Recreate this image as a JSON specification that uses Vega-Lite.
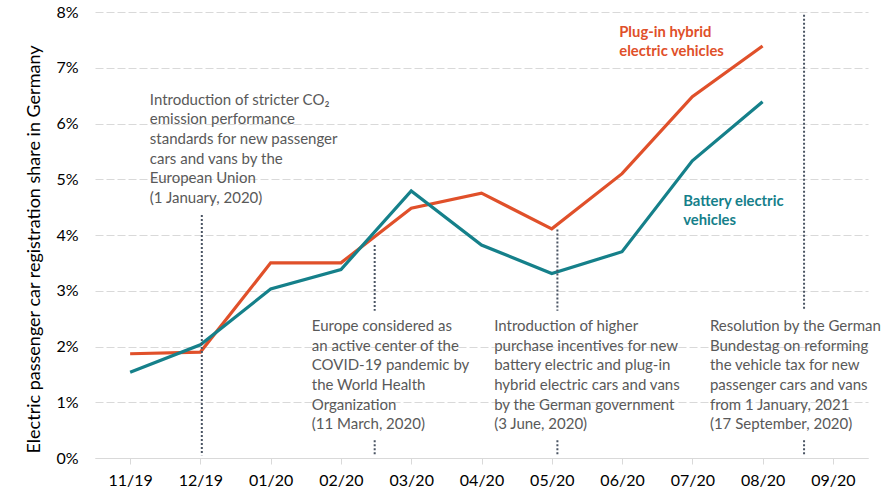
{
  "$schema": "https://vega.github.io/schema/vega-lite/v6.json",
  "autosize": "none",
  "width": 773,
  "height": 446,
  "padding": {"left": 95, "top": 12, "right": 25, "bottom": 35},
  "background": "white",
  "config": {
    "view": {"stroke": null},
    "font": "Lato"
  },
  "datasets": {
    "series": [
      {"m": 0, "month": "11/19", "series": "PHEV", "share": 0.0187},
      {"m": 1, "month": "12/19", "series": "PHEV", "share": 0.0190},
      {"m": 2, "month": "01/20", "series": "PHEV", "share": 0.0350},
      {"m": 3, "month": "02/20", "series": "PHEV", "share": 0.0350},
      {"m": 4, "month": "03/20", "series": "PHEV", "share": 0.0448},
      {"m": 5, "month": "04/20", "series": "PHEV", "share": 0.0475},
      {"m": 6, "month": "05/20", "series": "PHEV", "share": 0.0411},
      {"m": 7, "month": "06/20", "series": "PHEV", "share": 0.0510},
      {"m": 8, "month": "07/20", "series": "PHEV", "share": 0.0648},
      {"m": 9, "month": "08/20", "series": "PHEV", "share": 0.0739},
      {"m": 0, "month": "11/19", "series": "BEV", "share": 0.0154},
      {"m": 1, "month": "12/19", "series": "BEV", "share": 0.0203},
      {"m": 2, "month": "01/20", "series": "BEV", "share": 0.0303},
      {"m": 3, "month": "02/20", "series": "BEV", "share": 0.0338},
      {"m": 4, "month": "03/20", "series": "BEV", "share": 0.0479},
      {"m": 5, "month": "04/20", "series": "BEV", "share": 0.0382},
      {"m": 6, "month": "05/20", "series": "BEV", "share": 0.0331},
      {"m": 7, "month": "06/20", "series": "BEV", "share": 0.0370},
      {"m": 8, "month": "07/20", "series": "BEV", "share": 0.0533},
      {"m": 9, "month": "08/20", "series": "BEV", "share": 0.0639}
    ],
    "events": [
      {"x": 1.02, "y": 0.0436, "y2": 0.0005},
      {"x": 3.48, "y": 0.0382, "y2": 0.0264},
      {"x": 3.48, "y": 0.0032, "y2": 0.0005},
      {"x": 6.08, "y": 0.0410, "y2": 0.0264},
      {"x": 6.08, "y": 0.0032, "y2": 0.0005},
      {"x": 9.59, "y": 0.0795, "y2": 0.0264},
      {"x": 9.59, "y": 0.0032, "y2": 0.0005}
    ],
    "notes": [
      {"x": 0.28, "y": 0.0655, "lines": ["Introduction of stricter CO₂", "emission performance", "standards for new passenger", "cars and vans by the", "European Union", "(1 January, 2020)"]},
      {"x": 2.585, "y": 0.0249, "lines": ["Europe considered as", "an active center of the", "COVID-19 pandemic by", "the World Health", "Organization", "(11 March, 2020)"]},
      {"x": 5.18, "y": 0.0249, "lines": ["Introduction of higher", "purchase incentives for new", "battery electric and plug-in", "hybrid electric cars and vans", "by the German government", "(3 June, 2020)"]},
      {"x": 8.25, "y": 0.0249, "lines": ["Resolution by the German", "Bundestag on reforming", "the vehicle tax for new", "passenger cars and vans", "from 1 January, 2021", "(17 September, 2020)"]}
    ],
    "labels": [
      {"x": 6.96, "y": 0.0777, "series": "PHEV", "lines": ["Plug-in hybrid", "electric vehicles"]},
      {"x": 7.87, "y": 0.0474, "series": "BEV", "lines": ["Battery electric", "vehicles"]}
    ]
  },
  "layer": [
    {
      "data": {"name": "series"},
      "mark": {"type": "line", "strokeWidth": 3.2, "strokeJoin": "miter"},
      "encoding": {
        "x": {
          "field": "m", "type": "quantitative",
          "scale": {"domain": [-0.5, 10.5], "nice": false, "zero": false},
          "axis": {
            "values": [0, 1, 2, 3, 4, 5, 6, 7, 8, 9, 10],
            "labelExpr": "['11/19','12/19','01/20','02/20','03/20','04/20','05/20','06/20','07/20','08/20','09/20'][datum.value]",
            "title": null,
            "grid": false,
            "domainColor": "#d9d9d9",
            "domainWidth": 1.2,
            "tickColor": "#d9d9d9",
            "tickSize": 6,
            "labelFontSize": 16,
            "labelColor": "#000000",
            "labelPadding": 8,
            "labelFont": "Lato"
          }
        },
        "y": {
          "field": "share", "type": "quantitative",
          "scale": {"domain": [0, 0.08], "nice": false},
          "axis": {
            "values": [0, 0.01, 0.02, 0.03, 0.04, 0.05, 0.06, 0.07, 0.08],
            "format": ".0%",
            "title": "Electric passenger car registration share in Germany",
            "titleFontSize": 18,
            "titleFontWeight": "normal",
            "titleColor": "#000000",
            "titleFont": "Lato",
            "titlePadding": 12,
            "titleY": 237,
            "domain": false,
            "ticks": false,
            "labelFontSize": 16,
            "labelColor": "#000000",
            "labelPadding": 17,
            "labelFont": "Lato",
            "gridColor": "#d9d9d9",
            "gridDash": [8, 3],
            "gridWidth": 1
          }
        },
        "color": {
          "field": "series", "type": "nominal",
          "scale": {"domain": ["PHEV", "BEV"], "range": ["#E0502A", "#15808A"]},
          "legend": null
        }
      }
    },
    {
      "data": {"name": "events"},
      "mark": {"type": "rule", "strokeDash": [2, 2], "strokeWidth": 2, "color": "#4a5463"},
      "encoding": {
        "x": {"field": "x", "type": "quantitative"},
        "y": {"field": "y", "type": "quantitative"},
        "y2": {"field": "y2"}
      }
    },
    {
      "data": {"name": "notes"},
      "mark": {"type": "text", "align": "left", "baseline": "top", "fontSize": 15, "lineHeight": 19.6, "color": "#595959", "font": "Lato"},
      "encoding": {
        "x": {"field": "x", "type": "quantitative"},
        "y": {"field": "y", "type": "quantitative"},
        "text": {"field": "lines"}
      }
    },
    {
      "data": {"name": "labels"},
      "mark": {"type": "text", "align": "left", "baseline": "top", "fontSize": 14.8, "fontWeight": "bold", "lineHeight": 19.6, "font": "Lato"},
      "encoding": {
        "x": {"field": "x", "type": "quantitative"},
        "y": {"field": "y", "type": "quantitative"},
        "text": {"field": "lines"},
        "color": {"field": "series", "type": "nominal", "scale": {"domain": ["PHEV", "BEV"], "range": ["#E0502A", "#15808A"]}, "legend": null}
      }
    }
  ]
}
